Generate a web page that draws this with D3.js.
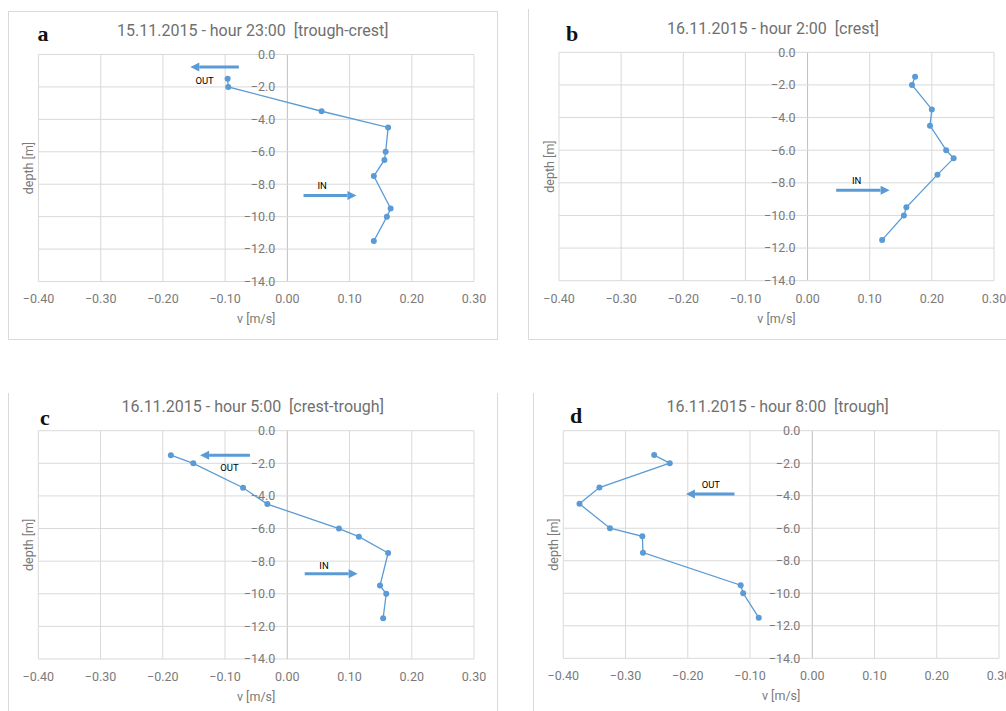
<!DOCTYPE html>
<html>
<head>
<meta charset="utf-8">
<script src="https://cdn.jsdelivr.net/npm/d3@7"></script>
<style>
  body { margin: 0; background: #fff; }
  svg { display: block; }
  text { font-family: Roboto, "Noto Sans", sans-serif; white-space: pre; }
  text.letter { font-family: "Liberation Serif", "DejaVu Serif", serif; }
</style>
</head>
<body>
<svg id="chart" width="1006" height="711"></svg>
<script>
// depth of each measurement (same for all four profiles)
var depths = [-1.5, -2.0, -3.5, -4.5, -6.0, -6.5, -7.5, -9.5, -10.0, -11.5];

// velocities
var velA = [-0.096, -0.095, 0.055, 0.162, 0.158, 0.156, 0.139, 0.166, 0.160, 0.139];
var velB = [0.173, 0.168, 0.200, 0.197, 0.223, 0.235, 0.209, 0.159, 0.155, 0.120];
var velC = [-0.187, -0.151, -0.071, -0.032, 0.083, 0.115, 0.162, 0.149, 0.159, 0.154];
var velD = [-0.254, -0.229, -0.342, -0.374, -0.325, -0.273, -0.272, -0.115, -0.111, -0.086];

var titles = [
  "15.11.2015 - hour 23:00  [trough-crest]",
  "16.11.2015 - hour 2:00  [crest]",
  "16.11.2015 - hour 5:00  [crest-trough]",
  "16.11.2015 - hour 8:00  [trough]"
];
var letters = ["a", "b", "c", "d"];

var xTicks = [-0.4, -0.3, -0.2, -0.1, 0.0, 0.1, 0.2, 0.3];
var yTicks = [0, -2, -4, -6, -8, -10, -12, -14];

// flow arrows: [label, x0, x1, depth, label x, label depth]
var arrowsA = [["OUT", -0.078, -0.156, -0.77, -0.133, -1.6], ["IN", 0.026, 0.111, -8.7, 0.056, -8.1]];
var arrowsB = [["IN", 0.046, 0.132, -8.45, 0.079, -7.85]];
var arrowsC = [["OUT", -0.060, -0.140, -1.51, -0.093, -2.25], ["IN", 0.028, 0.113, -8.77, 0.059, -8.25]];
var arrowsD = [["OUT", -0.125, -0.203, -3.9, -0.163, -3.3]];

var blue = "#5b9bd5";
var grid = "#d9d9d9";
var labelColor = "#7a7a7a";

var panels = [
  {vel: velA, arrows: arrowsA, left: 38.5, right: 474, top: 54.5, bottom: 281.5, titleY: 30, letterX: 43, letterY: 33},
  {vel: velB, arrows: arrowsB, left: 559, right: 994, top: 52.3, bottom: 280.7, titleY: 28, letterX: 572, letterY: 33},
  {vel: velC, arrows: arrowsC, left: 38.3, right: 474, top: 430.7, bottom: 659, titleY: 406, letterX: 45, letterY: 417},
  {vel: velD, arrows: arrowsD, left: 563.3, right: 999, top: 430.7, bottom: 658.3, titleY: 406, letterX: 576, letterY: 415}
];

var svg = d3.select("#chart");

// outer frames of the four excel charts (partly cropped in the figure)
var frame = svg.append("g").attr("fill", "none").attr("stroke", grid).attr("stroke-width", 1);
frame.append("rect").attr("x", 8.5).attr("y", 11.5).attr("width", 489).attr("height", 328);
frame.append("path").attr("d", "M528.5,9V339.5H1006");
frame.append("path").attr("d", "M8.5,393V711M497.5,393V711");
frame.append("path").attr("d", "M533.5,393V711");

panels.forEach(function (p, i) {
  var x = d3.scaleLinear().domain([-0.4, 0.3]).range([p.left, p.right]);
  var y = d3.scaleLinear().domain([0, -14]).range([p.top, p.bottom]);

  var g = svg.append("g");

  // grid
  g.selectAll(".vg").data(xTicks).enter().append("line")
    .attr("x1", function (d) { return x(d); }).attr("x2", function (d) { return x(d); })
    .attr("y1", p.top).attr("y2", p.bottom)
    .attr("stroke", function (d) { return d === 0 ? "#bfbfbf" : grid; })
    .attr("stroke-width", 1);
  g.selectAll(".hg").data(yTicks).enter().append("line")
    .attr("x1", p.left).attr("x2", p.right)
    .attr("y1", function (d) { return y(d); }).attr("y2", function (d) { return y(d); })
    .attr("stroke", grid).attr("stroke-width", 1);

  // tick labels
  g.selectAll(".xl").data(xTicks).enter().append("text")
    .attr("x", function (d) { return x(d); })
    .attr("y", p.bottom + 17.5)
    .attr("dy", "0.35em")
    .attr("text-anchor", "middle")
    .attr("font-size", 12.5)
    .attr("fill", labelColor)
    .text(function (d) { return d3.format(".2f")(d); });
  g.selectAll(".yl").data(yTicks).enter().append("text")
    .attr("x", x(0) - 12)
    .attr("y", function (d) { return y(d); })
    .attr("dy", "0.35em")
    .attr("text-anchor", "end")
    .attr("font-size", 12.5)
    .attr("fill", labelColor)
    .text(function (d) { return d3.format(".1f")(d); });

  // axis titles
  g.append("text")
    .attr("x", (p.left + p.right) / 2).attr("y", p.bottom + 37.5)
    .attr("dy", "0.35em").attr("text-anchor", "middle")
    .attr("font-size", 12.5).attr("fill", labelColor)
    .text("v [m/s]");
  g.append("text")
    .attr("transform", "translate(" + (p.left - 9.5) + "," + ((p.top + p.bottom) / 2) + ") rotate(-90)")
    .attr("dy", "0.35em").attr("text-anchor", "middle")
    .attr("font-size", 12.5).attr("fill", labelColor)
    .text("depth [m]");

  // title + panel letter
  g.append("text")
    .attr("x", (p.left + p.right) / 2 - 3.5).attr("y", p.titleY)
    .attr("dy", "0.35em").attr("text-anchor", "middle")
    .attr("font-size", 16).attr("fill", "#6f6f6f")
    .text(titles[i]);
  g.append("text")
    .attr("class", "letter")
    .attr("x", p.letterX).attr("y", p.letterY)
    .attr("dy", "0.35em").attr("text-anchor", "middle")
    .attr("font-size", 22).attr("font-weight", "bold").attr("fill", "#111")
    .text(letters[i]);

  // profile
  var pts = depths.map(function (d, k) { return [p.vel[k], d]; });
  var line = d3.line().x(function (d) { return x(d[0]); }).y(function (d) { return y(d[1]); });
  g.append("path").datum(pts)
    .attr("d", line).attr("fill", "none")
    .attr("stroke", blue).attr("stroke-width", 1.3);
  g.selectAll(".pt").data(pts).enter().append("circle")
    .attr("cx", function (d) { return x(d[0]); })
    .attr("cy", function (d) { return y(d[1]); })
    .attr("r", 3).attr("fill", blue);

  // IN / OUT arrows
  p.arrows.forEach(function (a) {
    var x0 = x(a[1]), x1 = x(a[2]), yy = y(a[3]);
    var dir = x1 > x0 ? 1 : -1;
    var headLen = 9;
    g.append("line")
      .attr("x1", x0).attr("x2", x1 - dir * headLen)
      .attr("y1", yy).attr("y2", yy)
      .attr("stroke", blue).attr("stroke-width", 3);
    g.append("path")
      .attr("d", "M" + x1 + "," + yy +
        "L" + (x1 - dir * headLen) + "," + (yy - 4.5) +
        "L" + (x1 - dir * headLen) + "," + (yy + 4.5) + "Z")
      .attr("fill", blue);
    g.append("text")
      .attr("x", x(a[4])).attr("y", y(a[5]))
      .attr("dy", "0.35em").attr("text-anchor", "middle")
      .attr("font-size", 9.5).attr("fill", "#000")
      .text(a[0]);
  });
});
</script>
</body>
</html>
